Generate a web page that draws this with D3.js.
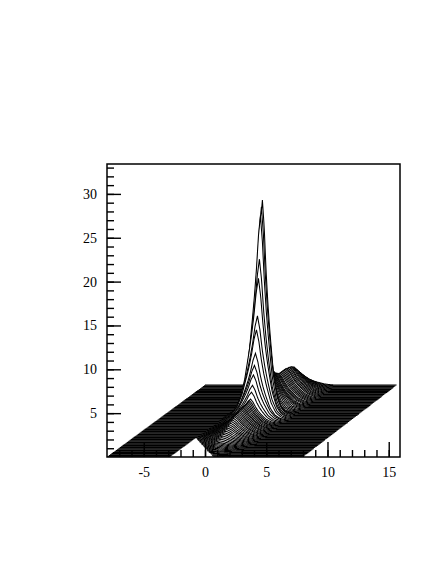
<!DOCTYPE html>
<html>
<head>
<meta charset="utf-8">
<script src="https://cdn.jsdelivr.net/npm/d3@7"></script>
<style>
  html, body { margin: 0; background: #fff; }
  text { font-family: "Liberation Serif", serif; font-size: 14px; fill: #000; }
</style>
</head>
<body>
<div id="chart"></div>
<script>
// ridge height of every trace, front (first) to back (last)
const peakHeights = [
  0.05, 0.05, 0.05, 0.1, 0.1, 0.1, 0.15, 0.15, 0.2, 0.25,
  0.3, 0.35, 0.4, 0.45, 0.5, 0.6, 0.7, 0.8, 0.9, 1.0,
  1.1, 1.2, 1.3, 1.4, 1.5, 1.6, 1.7, 1.8, 1.9, 2.0,
  2.1, 2.15, 2.2, 2.25, 2.3, 2.35, 2.4, 2.42, 2.45, 2.47,
  2.5, 2.52, 2.55, 2.6, 2.65, 2.7, 2.8, 3.5, 4.2, 5.3,
  6.3, 7.6, 10.2, 11.7, 15.9, 18.0, 22.9, 23.8, 24.5, 19.0,
  13.0, 9.0, 7.5, 6.5, 6.0, 5.5, 5.0, 4.6, 4.3, 4.1,
  3.9, 3.7, 3.6, 3.5, 3.4, 3.3, 3.3, 3.3, 3.3, 3.3,
  3.3, 3.3, 3.3, 3.2, 3.2, 3.2, 3.1, 3.1, 3.0, 2.9,
  2.8, 2.6, 2.4, 2.2, 2.0, 1.8, 1.6, 1.4, 1.2, 1.0
];
// half width of the ridge on each trace
const peakWidths = [
  1.3, 1.3, 1.3, 1.3, 1.3, 1.3, 1.3, 1.3, 1.3, 1.3,
  1.25, 1.25, 1.25, 1.25, 1.25, 1.2, 1.2, 1.2, 1.2, 1.2,
  1.15, 1.15, 1.15, 1.15, 1.1, 1.1, 1.1, 1.1, 1.05, 1.05,
  1.05, 1.0, 1.0, 1.0, 1.0, 0.95, 0.95, 0.95, 0.95, 0.9,
  0.9, 0.9, 0.9, 0.85, 0.85, 0.85, 0.85, 0.85, 0.85, 0.85,
  0.85, 0.8, 0.8, 0.8, 0.75, 0.7, 0.65, 0.65, 0.6, 0.6,
  0.6, 0.65, 0.7, 0.75, 0.8, 0.85, 0.9, 0.95, 1.0, 1.0,
  1.0, 1.0, 1.05, 1.05, 1.05, 1.05, 1.1, 1.1, 1.1, 1.1,
  1.1, 1.1, 1.15, 1.15, 1.15, 1.15, 1.15, 1.15, 1.15, 1.15,
  1.15, 1.15, 1.15, 1.15, 1.15, 1.15, 1.15, 1.15, 1.15, 1.15
];
// where the front traces come back up after the gap, first trace onwards
const gapEnds = [
  0.65, 0.5, 0.37, 0.24, 0.1, -0.03, -0.17, -0.3, -0.44, -0.57,
  -0.7, -0.84, -0.97, -1.1, -1.24, -1.37, -1.5, -1.64, -1.77, -1.9,
  -2.04, -2.17, -2.3, -2.44, -2.57, -2.7, -2.8
];
const ridgeEdge = 2.86;
// ridge cross section: distance in half widths, relative height
const profileAt = [0, 0.25, 0.5, 0.75, 1, 1.5, 2, 2.5, 3, 4, 5, 7, 10];
const profileValue = [1, 0.9, 0.74, 0.61, 0.5, 0.3, 0.17, 0.1, 0.06, 0.03, 0.015, 0.005, 0];
const backShift = [8, 8.2];
const traceStart = -8;
const traceEnds = [8, 7.67];
const xMajor = [-5, 0, 5, 10, 15];
const yMajor = [5, 10, 15, 20, 25, 30];
const xMinor = d3.range(-7, 16);
const yMinor = d3.range(1, 34);

const width = 436, height = 564;
const left = 107, right = 400, top_ = 164, bottom = 457;

const svg = d3.select('#chart').append('svg')
    .attr('width', width)
    .attr('height', height)
    .style('display', 'block');

const x = d3.scaleLinear().domain([-8, 15.92]).range([left, right]);
const y = d3.scaleLinear().domain([0, 33.41]).range([bottom, top_]);
const profile = d3.scaleLinear().domain(profileAt).range(profileValue).clamp(true);

svg.append('clipPath').attr('id', 'plot').append('rect')
    .attr('x', left).attr('y', top_).attr('width', right - left).attr('height', bottom - top_);

const traces = svg.append('g').attr('clip-path', 'url(#plot)');

// painted back to front, each white fill hides what is behind it
d3.range(peakHeights.length - 1, -1, -1).forEach(i => {
    const f = i / (peakHeights.length - 1);
    const dx = backShift[0] * f, dy = backShift[1] * f;
    const w = peakWidths[i];
    const samples = d3.range(traceStart, traceEnds[0] + (traceEnds[1] - traceEnds[0]) * f, 0.04);
    const gapEnd = i < gapEnds.length ? gapEnds[i] : -ridgeEdge;
    const visible = s => s <= -ridgeEdge || s >= gapEnd;
    // the ridge only lifts the trace between its two edge points
    const floorLeft = profile(Math.abs(gapEnd) / w);
    const floorRight = profile(ridgeEdge / w);
    const shape = s => {
        const floor = s < 0 ? floorLeft : floorRight;
        const lift = Math.max(0, profile(Math.abs(s) / w) - floor) / (1 - floor);
        return s < 0 ? lift : Math.pow(lift, 1.3); // softer landing on the right
    };
    const value = s => dy + peakHeights[i] * shape(s);

    const area = d3.area().defined(visible)
        .x(s => x(s + dx)).y0(bottom).y1(s => y(value(s)));
    const line = d3.line().defined(visible)
        .x(s => x(s + dx)).y(s => y(value(s)));

    traces.append('path').attr('d', area(samples)).attr('fill', '#fff');
    traces.append('path').attr('d', line(samples))
        .attr('fill', 'none').attr('stroke', '#000').attr('stroke-width', 1.05);
});

function addAxis(axis, at, size, labelled) {
    const g = svg.append('g').attr('transform', at).call(axis.tickSize(size).tickPadding(labelled ? 24 : 0));
    g.select('.domain').remove();
    g.selectAll('line').attr('stroke', '#000').attr('stroke-width', 1.4);
    return g;
}

addAxis(d3.axisBottom(x).tickValues(xMinor).tickFormat(''), `translate(0,${bottom})`, -7);
addAxis(d3.axisLeft(y).tickValues(yMinor).tickFormat(''), `translate(${left},0)`, -7);

const xAxis = addAxis(d3.axisBottom(x).tickValues(xMajor).tickFormat(d => String(d)), `translate(0,${bottom})`, -15, true);
xAxis.selectAll('text').attr('y', 20).attr('dy', 0).style('font-size', '14px').style('font-family', '"Liberation Serif", serif');
const yAxis = addAxis(d3.axisLeft(y).tickValues(yMajor), `translate(${left},0)`, -14, true);
yAxis.selectAll('text').attr('x', -10).style('font-size', '14px').style('font-family', '"Liberation Serif", serif');

svg.append('rect')
    .attr('x', left).attr('y', top_).attr('width', right - left).attr('height', bottom - top_)
    .attr('fill', 'none').attr('stroke', '#000').attr('stroke-width', 1.5);
</script>
</body>
</html>
